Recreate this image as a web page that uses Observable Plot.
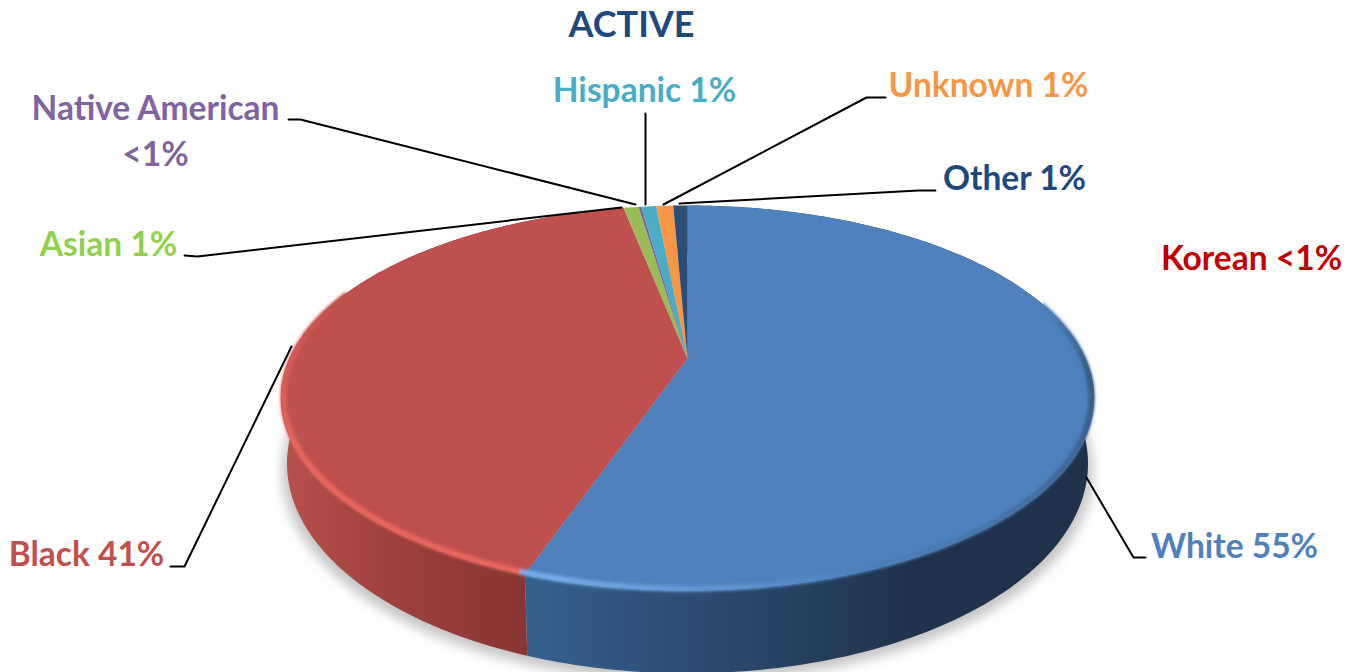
<!DOCTYPE html>
<html>
<head>
<meta charset="utf-8">
<script src="https://cdn.jsdelivr.net/npm/d3@7"></script>
<script src="https://cdn.jsdelivr.net/npm/@observablehq/plot@0.6"></script>
<style>
html,body{margin:0;padding:0;background:#fff;overflow:hidden}
svg{display:block}
</style>
</head>
<body>
<div id="chart"></div>
<script>
// DATA (clockwise from 12 o'clock)
const categories = ["White","Black","Asian","Native American","Hispanic","Unknown","Other","Korean"];
const shares = [55.33,41.55,0.72,0.14,0.72,0.82,0.68,0.01];
const faceColors = ["#4f81bd","#c0504d","#9bbb59","#8064a2","#4bacc6","#f79646","#2c4d75","#c00000"];

const titleText = "ACTIVE";
const labelTexts = ["White 55%","Black 41%","Asian 1%","Native American\n<1%","Hispanic 1%","Unknown 1%","Other 1%","Korean <1%"];
const labelColors = ["#4f81bd","#c0504d","#92d050","#8064a2","#4bacc6","#f79646","#1f497d","#c00000"];

// LAYOUT (not data)
const W = 1361, H = 672;
const labelAt = [[1234,543],[86,551],[108,241],[155,128],[644,87],[988,82],[1014,175],[1251,255]];
const leaderPaths = [
  [[1145,557],[1133,557],[1086,477]],
  [[170,566],[184,566],[291,346]],
  [[184,255],[197,256],[621,207]],
  [[288,119],[300,119],[635,204]],
  [[645,113],[645,204]],
  [[885,97],[866,97],[663,204]],
  [[935,190],[918,190],[679,203]]
];
const P = 0.205;
const topDisc = {cx:687, apex:358, A:398, B:184.4};
const baseDisc = {cx:687, apex:420, A:392, B:201};

const project = (d, deg, r = 1) => {
  const t = deg * Math.PI / 180, u = r * Math.sin(t), v = r * Math.cos(t), k = 1 + P * v;
  return [d.cx + d.A * u / k, d.apex - d.B * v / k];
};
const arc = (d, a0, a1, r = 1) => {
  const n = Math.max(2, Math.ceil(Math.abs(a1 - a0))), out = [];
  for (let i = 0; i <= n; i++) out.push(project(d, a0 + (a1 - a0) * i / n, r));
  return out;
};

const total = d3.sum(shares);
let running = 0;
const slices = categories.map((name, i) => {
  const a0 = running / total * 360; running += shares[i];
  return {name, i, a0, a1: running / total * 360};
});

const facePts = slices.flatMap(s =>
  [[topDisc.cx, topDisc.apex], ...arc(topDisc, s.a0, s.a1)].map(([x, y]) => ({x, y, name: s.name, fill: faceColors[s.i]})));

const wallPts = slices.slice(0, 2).flatMap(s =>
  [...arc(topDisc, s.a0, s.a1), ...arc(baseDisc, s.a1, s.a0)].map(([x, y]) => ({x, y, name: s.name, fill: `url(#wall-${s.i})`})));

const shadowPts = arc(baseDisc, 0, 360).map(([x, y]) => ({x: x + (x - 687) * 0.012, y: y + 8}));

// soft rim of the top face
const lerp = (a, b, t) => d3.interpolateRgb(a, b)(Math.max(0, Math.min(1, t)));
const boundary = slices[0].a1;
const rimColor = deg => {
  if (deg < boundary) {
    if (deg < 95) return lerp("#4f81bd", "#35587f", (deg - 72) / 23);
    if (deg < 160) return lerp("#35587f", "#4f81bd", (deg - 95) / 65);
    return lerp("#4f81bd", "#78aeea", (deg - 160) / (boundary - 160));
  }
  const f = deg < 245 ? 1 : (292 - deg) / 47;
  return lerp("#c0504d", "#e8665f", f);
};
const rimSegs = d3.range(72, 292, 1).map(deg => {
  const [x1, y1] = project(topDisc, deg, 0.994), [x2, y2] = project(topDisc, deg + 1.2, 0.994);
  return {x1, y1, x2, y2, stroke: rimColor(deg)};
});

const blur = id => (index, scales, values, dims, ctx, next) => {
  const g = next(index, scales, values, dims, ctx);
  g.setAttribute("filter", `url(#${id})`);
  return g;
};

const gradientDefs = () => {
  const defs = d3.create("svg:defs");
  const add = (id, x1, x2, stops) => {
    const g = defs.append("linearGradient").attr("id", id).attr("gradientUnits", "userSpaceOnUse")
      .attr("x1", x1).attr("x2", x2).attr("y1", 0).attr("y2", 0);
    stops.forEach(([o, c]) => g.append("stop").attr("offset", o).attr("stop-color", c));
  };
  add("wall-0", 525, 1094, [[0, "#36618f"], [0.25, "#2e4f75"], [0.5, "#263f5f"], [0.68, "#1f324c"], [1, "#1f324c"]]);
  add("wall-1", 281, 528, [[0, "#b9514d"], [0.45, "#9e403c"], [1, "#873634"]]);
  const soft = (id, sd) => defs.append("filter").attr("id", id)
    .attr("x", "-10%").attr("y", "-10%").attr("width", "120%").attr("height", "120%")
    .append("feGaussianBlur").attr("stdDeviation", sd);
  soft("soft-shadow", 6);
  soft("soft-rim", 1.4);
  return defs.node();
};

const leaderRows = leaderPaths.flatMap((pts, k) => pts.map(([x, y]) => ({x, y, k})));
const labelRows = labelTexts.map((text, i) => ({text, x: labelAt[i][0], y: labelAt[i][1], color: labelColors[i]}));

const FONT = "Lato, 'Noto Sans', sans-serif";
const chart = Plot.plot({
  width: W, height: H,
  marginTop: 0, marginRight: 0, marginBottom: 0, marginLeft: 0,
  x: {domain: [0, W], range: [0, W], axis: null},
  y: {domain: [0, H], range: [0, H], axis: null},
  color: {type: "identity"},
  style: {background: "#fff"},
  marks: [
    gradientDefs,
    Plot.line(shadowPts, {x: "x", y: "y", fill: "#c4c4c4", stroke: "none", render: blur("soft-shadow")}),
    Plot.line(wallPts, {x: "x", y: "y", z: "name", fill: "fill", stroke: "none", curve: "linear"}),
    Plot.line(facePts, {x: "x", y: "y", z: "name", fill: "fill", stroke: "none", curve: "linear"}),
    Plot.link(rimSegs, {x1: "x1", y1: "y1", x2: "x2", y2: "y2", stroke: "stroke", strokeWidth: 6, render: blur("soft-rim")}),
    Plot.line(leaderRows, {x: "x", y: "y", z: "k", stroke: "#000", strokeWidth: 2, curve: "linear"}),
    Plot.text(labelRows, {x: "x", y: "y", text: "text", fill: "color", fontSize: 33.5, fontWeight: 700, fontFamily: FONT, textAnchor: "middle", lineHeight: 1.37}),
    Plot.text([titleText], {x: () => 631, y: () => 25, text: d => d, fill: "#1f497d", fontSize: 36, fontWeight: 700, fontFamily: FONT, textAnchor: "middle"})
  ]
});
document.getElementById("chart").append(chart);
</script>
</body>
</html>
